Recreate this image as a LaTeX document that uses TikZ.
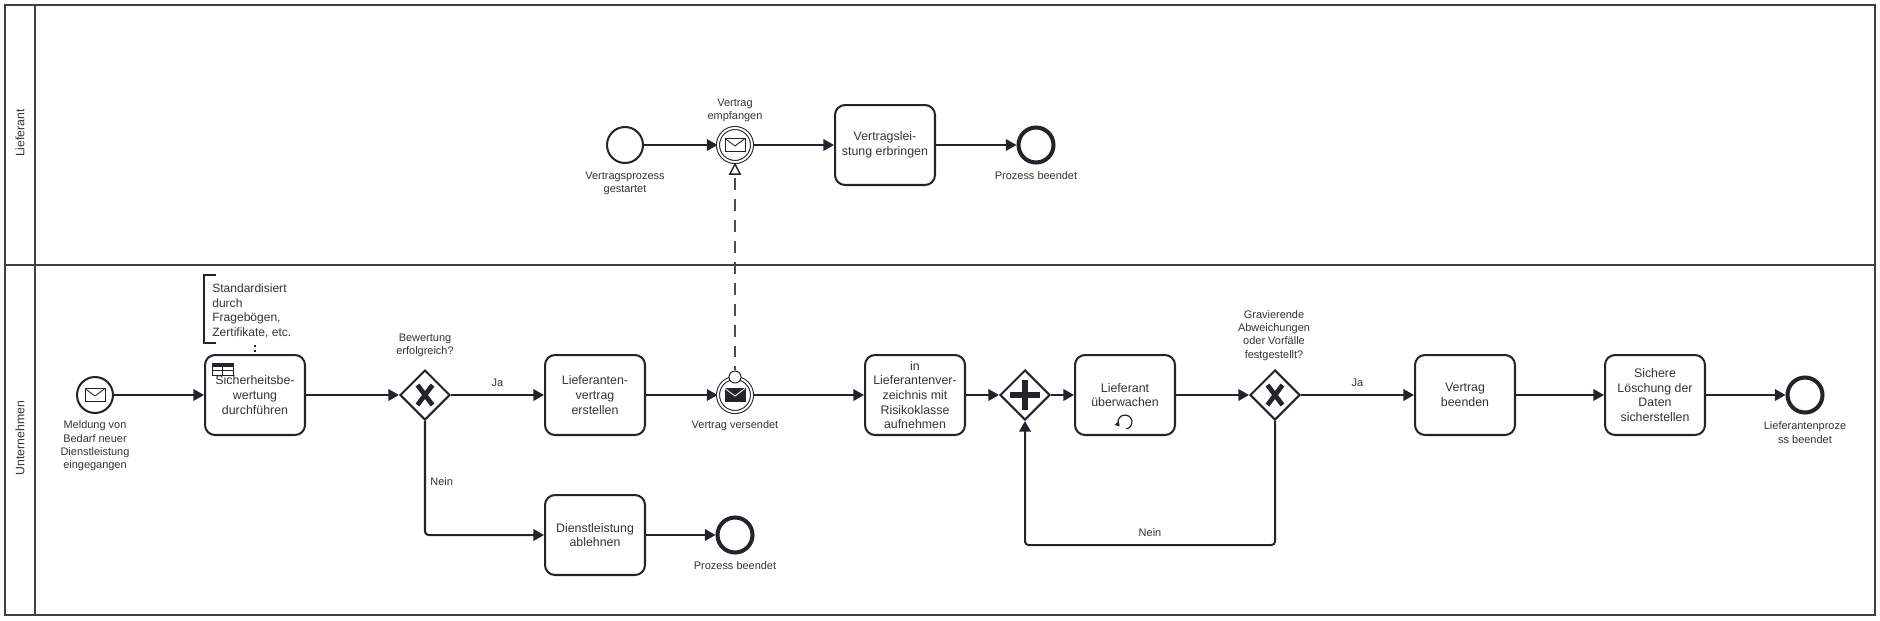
\documentclass[tikz,border=0pt]{standalone}
\usepackage{fontspec}
\setmainfont{Liberation Sans}
\usetikzlibrary{arrows.meta,shapes.geometric}
\definecolor{inkc}{HTML}{22242A}
\definecolor{textc}{HTML}{333333}
\tikzset{
  pics/envelope/.style={code={
    \draw[draw=inkc,line width=0.5pt,fill=#1] (-10,-6.5) rectangle (10,6.5);
    \draw[draw=inkc,line width=0.5pt] (-10,-6.5) -- (0,1) -- (10,-6.5);
  }},
  pics/envelope/.default=white
}
\begin{document}
\begin{tikzpicture}[x=0.02cm,y=-0.02cm,>={Triangle[length=6pt,width=6.5pt]},
    task/.style={draw=inkc,line width=1.15pt,rounded corners=0.2cm,minimum width=2cm,minimum height=1.6cm,inner sep=0pt,align=center,text=textc,font=\fontsize{7.05pt}{8.35pt}\selectfont},
    startev/.style={draw=inkc,line width=1.15pt,circle,minimum size=0.72cm,inner sep=0pt},
    endev/.style={draw=inkc,line width=2.3pt,circle,minimum size=0.7cm,inner sep=0pt},
    midev/.style={draw=inkc,double=white,double distance=1.1pt,line width=0.6pt,circle,minimum size=0.68cm,inner sep=0pt},
    gate/.style={draw=inkc,line width=1.15pt,diamond,aspect=1,minimum size=1cm,inner sep=0pt},
    lbl/.style={align=center,text=textc,inner sep=0pt,font=\fontsize{6.24pt}{7.55pt}\selectfont},
    flow/.style={->,draw=inkc,line width=1.15pt}]
    \useasboundingbox (0,0) rectangle (1880,620);

    % pool and lanes
    \draw[draw=black!75,line width=1.15pt] (5,5) rectangle (1875,615);
    \draw[draw=black!75,line width=1.15pt] (35,5) -- (35,615);
    \draw[draw=black!75,line width=1.15pt] (5,265) -- (1875,265);
    \node[lbl,rotate=90,font=\fontsize{7pt}{8.35pt}\selectfont] (laneA) at (20,133) {Lieferant};
    \node[lbl,rotate=90,font=\fontsize{7pt}{8.35pt}\selectfont] (laneB) at (20,438) {Unternehmen};

    % Lieferant
    \node[startev] (vstart) at (625,145) {};
    \node[midev] (vrecv) at (735,145) {};
    \node[task] (vleist) at (885,145) {Vertragslei-\\stung erbringen};
    \node[endev] (vend) at (1036,145) {};
    \pic at (735,145) {envelope};
    \node[lbl] (vstartl) at (625,183.5) {Vertragsprozess\\gestartet};
    \node[lbl] (vrecvl) at (735,110) {Vertrag\\empfangen};
    \node[lbl] (vendl) at (1036,176) {Prozess beendet};

    % Unternehmen
    \node[startev] (ustart) at (95,395) {};
    \pic at (95,395) {envelope};
    \node[task] (sicher) at (255,395) {Sicherheitsbe-\\wertung\\durchführen};
    \node[gate] (xorA) at (425,395) {};
    \node[task] (lvertrag) at (595,395) {Lieferanten-\\vertrag\\erstellen};
    \node[task] (ablehn) at (595,535) {Dienstleistung\\ablehnen};
    \node[endev] (rejend) at (735,535) {};
    \node[midev] (vsend) at (735,395) {};
    \pic at (735,395) {envelope=inkc};
    \draw[draw=white,line width=0.5pt] (725,388.5) -- (735,396) -- (745,388.5);
    \node[draw=inkc,fill=white,line width=0.6pt,circle,minimum size=0.24cm,inner sep=0pt] (vsendc) at (735,377) {};
    \node[task] (verz) at (915,395) {in\\Lieferantenver-\\zeichnis mit\\Risikoklasse\\aufnehmen};
    \node[gate] (andA) at (1025,395) {};
    \node[task] (ueberw) at (1125,395) {Lieferant\\überwachen};
    \node[gate] (xorB) at (1275,395) {};
    \node[task] (vbeend) at (1465,395) {Vertrag\\beenden};
    \node[task] (loesch) at (1655,395) {Sichere\\Löschung der\\Daten\\sicherstellen};
    \node[endev] (uend) at (1805,395) {};
    \coordinate (loopa) at (1025,545);

    % gateway markers
    \draw[draw=inkc,line width=2.7pt] (417.5,385) -- (432.5,405) (432.5,385) -- (417.5,405);
    \draw[draw=inkc,line width=2.7pt] (1267.5,385) -- (1282.5,405) (1282.5,385) -- (1267.5,405);
    \draw[draw=inkc,line width=3pt] (1010,395) -- (1040,395) (1025,380) -- (1025,410);

    % table and loop markers
    \draw[draw=inkc,line width=0.4pt] (212,363) rectangle (233,375) (212,370) -- (233,370) (222.5,367) -- (222.5,375);
    \fill[inkc] (212,363) rectangle (233,367);
    \draw[draw=inkc,line width=0.7pt,->,>={Triangle[length=2.6pt,width=3pt]}] (1126.2,428.9) arc[start angle=80,end angle=-220,radius=7];

    % annotation
    \node[lbl,anchor=west,align=left,font=\fontsize{6.85pt}{8.35pt}\selectfont] (annot) at (212,311) {Standardisiert\\durch\\Fragebögen,\\Zertifikate, etc.};
    \draw[draw=inkc,line width=1.15pt] (216,275) -- (204,275) -- (204,343) -- (216,343);
    \coordinate (annotb) at (255,345);
    \draw[draw=inkc,line width=1.15pt,dash pattern=on 1.2pt off 1.7pt] (annotb) -- (sicher.north);

    % labels
    \node[lbl] (ustartl) at (95,446) {Meldung von\\Bedarf neuer\\Dienstleistung\\eingegangen};
    \node[lbl] (xorAl) at (425,345.5) {Bewertung\\erfolgreich?};
    \node[lbl] (vsendl) at (735,426) {Vertrag versendet};
    \node[lbl] (rejendl) at (735,566) {Prozess beendet};
    \node[lbl] (xorBl) at (1274,335.5) {Gravierende\\Abweichungen\\oder Vorfälle\\festgestellt?};
    \node[lbl] (uendl) at (1805,432.5) {Lieferantenproze\\ss beendet};

    % flows
    \draw[flow] (vstart) -- (vrecv);
    \draw[flow] (vrecv) -- (vleist);
    \draw[flow] (vleist) -- (vend);
    \draw[flow] (ustart) -- (sicher);
    \draw[flow] (sicher) -- (xorA);
    \draw[flow] (xorA) -- node[lbl,pos=0.5,above=4pt] (jaA) {Ja} (lvertrag);
    \draw[flow,rounded corners=2pt] (xorA.south) |- node[lbl,pos=0.265,right=2.5pt] (neinA) {Nein} (ablehn.west);
    \draw[flow] (ablehn) -- (rejend);
    \draw[flow] (lvertrag) -- (vsend);
    \draw[flow] (vsend) -- (verz);
    \draw[flow] (verz) -- (andA);
    \draw[flow] (andA) -- (ueberw);
    \draw[flow] (ueberw) -- (xorB);
    \draw[flow] (xorB) -- node[lbl,pos=0.5,above=4pt] (jaB) {Ja} (vbeend);
    \draw[flow] (vbeend) -- (loesch);
    \draw[flow] (loesch) -- (uend);
    \draw[flow,rounded corners=2pt] (xorB.south) |- node[lbl,pos=0.75,above=4pt] (neinB) {Nein} (loopa) -- (andA.south);

    % message flow
    \draw[draw=black!70,line width=1.15pt,dash pattern=on 6.8pt off 5.1pt,dash phase=4.5pt,-{Triangle[open,length=7pt,width=7pt,fill=white,color=inkc,line width=0.8pt]}] (vsendc.north) -- (vrecv.south);
\end{tikzpicture}
\end{document}
